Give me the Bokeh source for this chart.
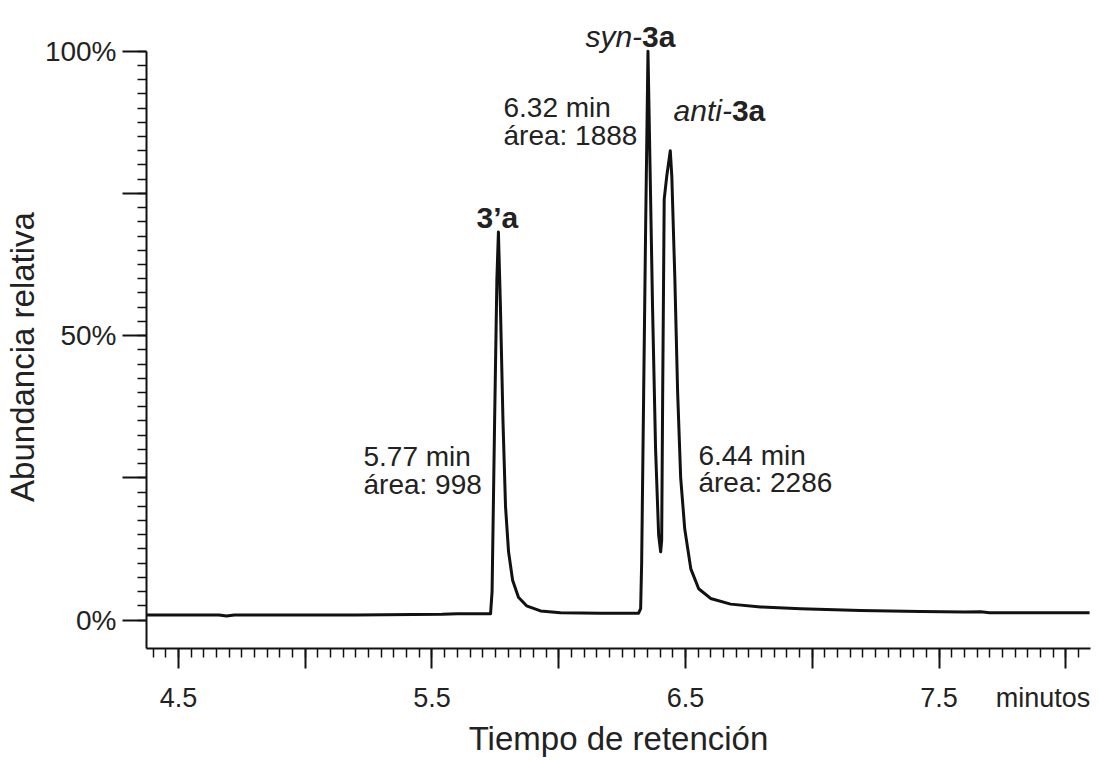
from bokeh.plotting import figure
from bokeh.models import Range1d, FixedTicker, LinearAxis
from bokeh.core.properties import value
from bokeh.embed import file_html
from bokeh.resources import INLINE

# ---- chromatogram trace (retention time in min, relative abundance in %) ----
time_min = [4.374, 4.50, 4.66, 4.69, 4.72, 4.90, 5.20, 5.54, 5.60, 5.731,
            5.737, 5.747, 5.756, 5.762, 5.770, 5.780, 5.790, 5.802, 5.818, 5.841,
            5.873, 5.928, 6.007, 6.165, 6.315,
            6.323, 6.327, 6.335, 6.343, 6.352, 6.360, 6.370, 6.382, 6.394, 6.402,
            6.406, 6.410, 6.416, 6.426, 6.440, 6.446, 6.458, 6.469, 6.481, 6.497,
            6.521, 6.552, 6.599, 6.678, 6.796, 6.954, 7.190, 7.427, 7.60, 7.664,
            7.70, 7.900, 8.094]
abundance_pct = [0.9, 0.9, 0.9, 0.7, 0.9, 0.9, 0.9, 1.0, 1.1, 1.1,
                 5.0, 35.0, 60.0, 68.2, 55.0, 35.0, 20.0, 12.0, 7.0, 4.0,
                 2.5, 1.6, 1.3, 1.2, 1.2,
                 2.0, 10.0, 40.0, 70.0, 100.0, 80.0, 55.0, 30.0, 15.0, 12.0,
                 14.0, 40.0, 74.0, 78.0, 82.5, 78.0, 60.0, 40.0, 25.0, 16.0,
                 9.0, 5.5, 3.8, 2.8, 2.3, 2.0, 1.7, 1.5, 1.4, 1.45,
                 1.3, 1.3, 1.3]

# ---- axis ticks ----
x_major = [4.5, 5.0, 5.5, 6.0, 6.5, 7.0, 7.5, 8.0]
x_minor = [round(4.4 + 0.05 * i, 2) for i in range(74)]
x_label_pos = [4.5, 5.5, 6.5, 7.5, 7.91]
x_labels = ["4.5", "5.5", "6.5", "7.5", "minutos"]
y_major = [0, 25, 50, 75, 100]
y_labels = ["0%", "", "50%", "", "100%"]
y_minor = [2.5 * i for i in range(41)]

# ---- peak annotations ----
info_x = [5.2298, 5.2298, 5.782, 5.782, 6.551, 6.551]
info_y = [28.8, 23.9, 90.1, 85.2, 29.0, 24.1]
info_text = ["5.77 min", "área: 998", "6.32 min", "área: 1888", "6.44 min", "área: 2286"]

font = "Liberation Sans"
ink = "#222222"
axis_ink = "#111111"

p = figure(width=1098, height=760, output_backend="svg", toolbar_location=None,
           x_range=Range1d(4.3738, 8.0976), y_range=Range1d(-5, 107.15),
           min_border_left=146, min_border_right=8, min_border_top=10,
           min_border_bottom=112)
p.outline_line_color = None
p.xgrid.visible = False
p.ygrid.visible = False
p.background_fill_color = "white"

p.line(time_min, abundance_pct, line_color="#111111", line_width=3,
       line_join="round")

# x axis: ticks only (closest to the frame)
xa = p.xaxis[0]
xa.ticker = FixedTicker(ticks=x_major, minor_ticks=x_minor)
xa.major_label_overrides = {t: "" for t in x_major}
xa.major_label_text_font_size = "1px"
xa.major_label_standoff = 0
xa.major_tick_out = 20
xa.major_tick_in = 0
xa.minor_tick_out = 9
xa.minor_tick_in = 0
xa.axis_line_width = 2
xa.major_tick_line_width = 2
xa.minor_tick_line_width = 1.5
xa.axis_line_color = axis_ink
xa.major_tick_line_color = axis_ink
xa.minor_tick_line_color = axis_ink

# x axis: labels and title (no marks)
xl = LinearAxis(ticker=FixedTicker(ticks=x_label_pos, minor_ticks=[]))
xl.major_label_overrides = {t: l for t, l in zip(x_label_pos, x_labels)}
xl.axis_line_color = None
xl.major_tick_line_color = None
xl.minor_tick_line_color = None
xl.major_tick_out = 0
xl.major_tick_in = 0
xl.minor_tick_out = 0
xl.minor_tick_in = 0
xl.major_label_text_font = font
xl.major_label_text_font_size = "27px"
xl.major_label_text_color = ink
xl.major_label_standoff = 14
xl.axis_label = "Tiempo de retención"
xl.axis_label_text_font = font
xl.axis_label_text_font_style = "normal"
xl.axis_label_text_font_size = "33px"
xl.axis_label_text_color = ink
xl.axis_label_standoff = 4
p.add_layout(xl, "below")

# y axis (title padded at its end so it sits centred on the drawn axis line)
ya = p.yaxis[0]
ya.ticker = FixedTicker(ticks=y_major, minor_ticks=y_minor)
ya.major_label_overrides = {t: l for t, l in zip(y_major, y_labels)}
ya.bounds = (-5, 100)
ya.axis_label = "Abundancia relativa" + "\u00a0" * 6
ya.axis_label_text_font = font
ya.axis_label_text_font_style = "normal"
ya.axis_label_text_font_size = "33px"
ya.axis_label_text_color = ink
ya.axis_label_standoff = 1
ya.major_label_text_font = font
ya.major_label_text_font_size = "28px"
ya.major_label_text_color = ink
ya.major_label_standoff = 6
ya.major_tick_out = 24
ya.major_tick_in = 0
ya.minor_tick_out = 9
ya.minor_tick_in = 0
ya.axis_line_width = 2
ya.major_tick_line_width = 2
ya.minor_tick_line_width = 1.5
ya.axis_line_color = axis_ink
ya.major_tick_line_color = axis_ink
ya.minor_tick_line_color = axis_ink

# peak info text
p.text(x=info_x, y=info_y, text=info_text, text_font=value(font),
       text_font_size="28px", text_color=ink, text_align="left",
       text_baseline="alphabetic")

# compound names
p.text(x=[5.758], y=[70.8], text=["3’a"], text_font=value(font),
       text_font_size="30px", text_font_style="bold", text_color=ink,
       text_align="center", text_baseline="alphabetic")
p.text(x=[6.3288, 6.683], y=[102.6, 89.6], text=["syn-", "anti-"],
       text_font=value(font), text_font_size="30px", text_font_style="italic",
       text_color=ink, text_align="right", text_baseline="alphabetic")
p.text(x=[6.3288, 6.683], y=[102.6, 89.6], text=["3a", "3a"],
       text_font=value(font), text_font_size="30px", text_font_style="bold",
       text_color=ink, text_align="left", text_baseline="alphabetic")

open("out.html", "w").write(file_html(p, INLINE))
